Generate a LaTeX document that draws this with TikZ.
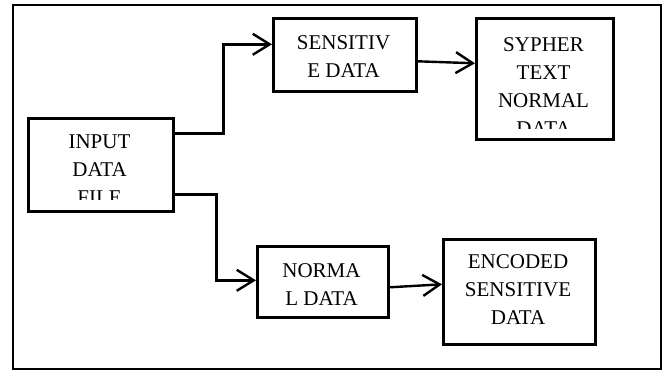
\documentclass[tikz,border=0pt]{standalone}
\usepackage{fontspec}
\setmainfont{Liberation Serif}
\usetikzlibrary{arrows.meta}
\begin{document}
\begin{tikzpicture}[x=1pt,y=-1pt,
  box/.style={draw=black,line width=2.6pt,rectangle,inner sep=0pt,anchor=north west},
  label/.style={anchor=north,inner sep=0pt,align=center,font=\fontsize{21}{28}\selectfont},
  arr/.style={line width=2.4pt,-{Straight Barb[length=17pt,width=21pt,line width=2.4pt]}}]
\useasboundingbox (0,0) rectangle (666,372);
% outer frame
\draw[line width=2.6pt] (13,5) rectangle (661,369);
% boxes
\node[box,minimum width=145pt,minimum height=93pt] (inp) at (27,117) {};
\node[box,minimum width=143pt,minimum height=73pt] (sens) at (272,17) {};
\node[box,minimum width=137pt,minimum height=121pt] (syph) at (475,17) {};
\node[box,minimum width=131pt,minimum height=71pt] (norm) at (256,245) {};
\node[box,minimum width=152pt,minimum height=105pt] (enc) at (442,238) {};
% box texts (overflowing text is cut off by the text area)
\begin{scope}
  \clip (27,117) rectangle (172,199);
  \node[label] (inptxt) at (99.5,135) {INPUT\\DATA\\FILE};
\end{scope}
\node[label] (senstxt) at (343.5,35) {SENSITIV\\E DATA};
\begin{scope}
  \clip (475,17) rectangle (612,128);
  \node[label] (syphtxt) at (543.5,37) {SYPHER\\TEXT\\NORMAL\\DATA};
\end{scope}
\node[label] (normtxt) at (321.5,263) {NORMA\\L DATA};
\node[label] (enctxt) at (518,254) {ENCODED\\SENSITIVE\\DATA};
% connectors
\draw[arr] ([yshift=31.5pt]inp.east) -- ++(49,0) |- ([yshift=10.5pt]sens.west);
\draw[arr] ([yshift=-29.5pt]inp.east) -- ++(42,0) |- ([yshift=1.5pt]norm.west);
\draw[arr] ([yshift=-6.5pt]sens.east) -- ([yshift=15.5pt]syph.west);
\draw[arr] ([yshift=-5.5pt]norm.east) -- ([yshift=7.5pt]enc.west);
\end{tikzpicture}
\end{document}
